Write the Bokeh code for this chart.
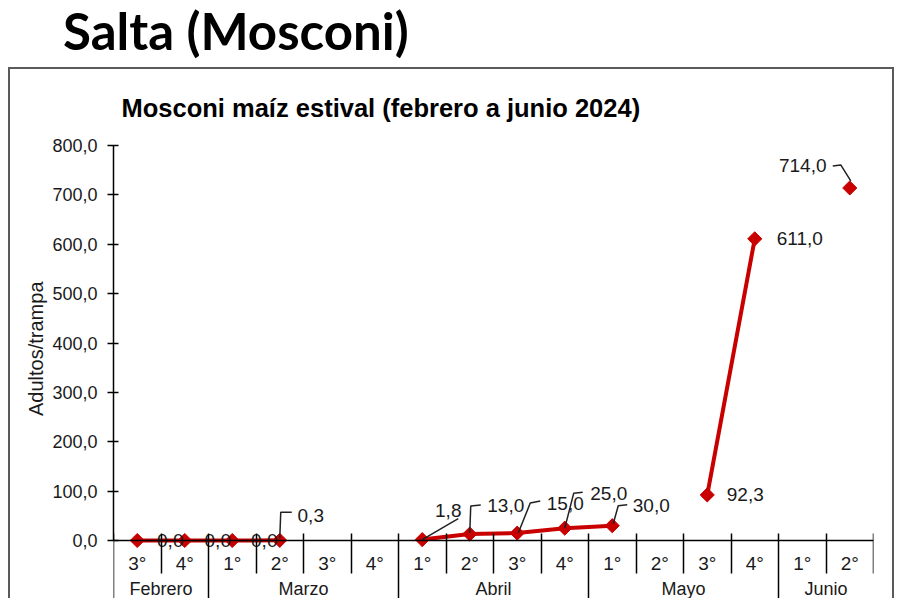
import numpy as np
from bokeh.plotting import figure
from bokeh.models import Range1d, LinearAxis, FixedTicker, ColumnDataSource, Div, Title
from bokeh.layouts import column
from bokeh.core.properties import value
from bokeh.embed import file_html
from bokeh.resources import INLINE

# ---------------- data ----------------
page_title = "Salta (Mosconi)"
chart_title = "Mosconi maíz estival (febrero a junio 2024)"
y_axis_title = "Adultos/trampa"
months = ["Febrero", "Marzo", "Abril", "Mayo", "Junio"]
weeks_per_month = [2, 4, 4, 4, 2]
week_labels = ["3°", "4°", "1°", "2°", "3°", "4°", "1°", "2°",
               "3°", "4°", "1°", "2°", "3°", "4°", "1°", "2°"]
adults = [0.0, 0.0, 0.0, 0.3, None, None, 1.8, 13.0,
          15.0, 25.0, 30.0, None, 92.3, 611.0, None, 714.0]
y_ticks = [0, 100, 200, 300, 400, 500, 600, 700, 800]

# ---------------- label placement (pixels, styling only) ----------------
label_dx = [33, 33, 32, 31, None, None, 26, 36, 48, 44, 39, None, 38, 45, None, -47]
label_dy = [0, 0, 0, -25, None, None, -29, -29, -30, -35, -20, None, 0, 0, None, -22]
leaders = {
    3: [(0, -2), (1, -28), (12, -28)],
    6: [(0, 0), (36, -21)],
    7: [(0, -1), (1, -28), (11, -29)],
    8: [(1, 0), (13, -30), (23, -32)],
    9: [(0, 0), (9, -35), (18, -36)],
    10: [(1, -2), (6, -20), (15, -21)],
    15: [(-17, -22), (-9, -23), (1, -7)],
}

# ---------------- geometry ----------------
W, H = 886, 531
MB_L, MB_T = 105, 78
FRAME_W = 760
MB_R = W - MB_L - FRAME_W
Y_END = 800
PX_PER_UNIT = 395 / 800          # vertical pixels per adult/trap
Y0_FIG = MB_T + Y_END * PX_PER_UNIT
Y_START = -(H - Y0_FIG) / PX_PER_UNIT
n = len(week_labels)
px_x = FRAME_W / n
px_y = PX_PER_UNIT
Y_TITLE_LEN = 146                # approx. rendered length of the y title (px)

RED = "#C80000"
TXT = "#1a1a1a"
FONT = "Liberation Sans"

xs = [i + 0.5 for i in range(n)]
ys = [np.nan if v is None else v for v in adults]

def fmt(v):
    return f"{v:.1f}".replace(".", ",")

p = figure(width=W, height=H, x_range=Range1d(0, n), y_range=Range1d(Y_START, Y_END),
           output_backend="svg", toolbar_location=None,
           x_axis_type=None, y_axis_type=None,
           min_border_left=MB_L, min_border_right=MB_R,
           min_border_top=MB_T, min_border_bottom=0,
           border_fill_color=None, background_fill_color=None,
           outline_line_color=None, margin=(0, 0, 0, 8),
           styles={"box-shadow": "inset 2px 2px 0 0 #5a5a5a, inset -2px 0 0 0 #5a5a5a"})
p.xgrid.visible = False
p.ygrid.visible = False

p.title.text = chart_title
p.title.text_font = FONT
p.title.text_font_size = "25.5px"
p.title.text_font_style = "bold"
p.title.text_color = "#000000"
p.title.align = "left"
p.title.offset = 8
p.title.standoff = 47

# y axis
yaxis = LinearAxis(ticker=FixedTicker(ticks=y_ticks),
                   major_label_overrides={t: fmt(t) for t in y_ticks},
                   bounds=(0, 800))
yaxis.major_tick_in = 5
yaxis.major_tick_out = 6
yaxis.minor_tick_line_color = None
yaxis.major_label_standoff = 10
yaxis.major_label_text_font = FONT
yaxis.major_label_text_font_size = "18px"
yaxis.major_label_text_color = TXT
yaxis.axis_line_color = "#000000"
yaxis.axis_line_width = 1.5
yaxis.major_tick_line_width = 1.5
p.add_layout(yaxis, "left")

# y axis title, centred on the 0..800 span rather than on the whole frame
span_center = MB_T + (Y_END / 2) * PX_PER_UNIT
y_title = Title(text=y_axis_title, align="left",
                offset=H - (span_center + Y_TITLE_LEN / 2),
                text_font=FONT, text_font_size="20px", text_font_style="normal",
                text_color=TXT, standoff=6)
p.add_layout(y_title, "left")

# month boundaries
bounds_month = [0]
for k in weeks_per_month:
    bounds_month.append(bounds_month[-1] + k)
week_bounds = [b for b in range(1, n + 1) if b not in bounds_month[:-1]]
month_centers = [(bounds_month[i] + bounds_month[i + 1]) / 2 for i in range(len(months))]

def base_axis(ticks, overrides):
    ax = LinearAxis(ticker=FixedTicker(ticks=ticks), major_label_overrides=overrides,
                    fixed_location=0)
    ax.minor_tick_line_color = None
    ax.major_label_text_font = FONT
    ax.major_label_text_font_size = "18px"
    ax.major_label_text_color = TXT
    ax.major_tick_line_width = 1.5
    ax.major_tick_line_color = "#000000"
    return ax

ax_weeks = base_axis(week_bounds, {t: "" for t in week_bounds})
ax_weeks.major_tick_in = 7
ax_weeks.major_tick_out = 33
ax_weeks.axis_line_color = "#000000"
ax_weeks.axis_line_width = 1.5
p.add_layout(ax_weeks, "below")

month_seps = bounds_month[:-1]
ax_months_sep = base_axis(month_seps, {t: "" for t in month_seps})
ax_months_sep.major_tick_in = 7
ax_months_sep.major_tick_out = 80
ax_months_sep.axis_line_color = None
p.add_layout(ax_months_sep, "below")

ax_wlab = base_axis(xs, {x: w for x, w in zip(xs, week_labels)})
ax_wlab.major_tick_line_color = None
ax_wlab.major_tick_in = 0
ax_wlab.major_tick_out = 0
ax_wlab.major_label_standoff = 12
ax_wlab.major_label_text_font_size = "19px"
ax_wlab.axis_line_color = None
p.add_layout(ax_wlab, "below")

ax_mlab = base_axis(month_centers, {c: m for c, m in zip(month_centers, months)})
ax_mlab.major_tick_line_color = None
ax_mlab.major_tick_in = 0
ax_mlab.major_tick_out = 0
ax_mlab.major_label_standoff = 38
ax_mlab.axis_line_color = None
p.add_layout(ax_mlab, "below")

# series
src = ColumnDataSource(dict(x=xs, y=ys))
p.line("x", "y", source=src, line_color=RED, line_width=4)
p.scatter("x", "y", source=src, marker="square", angle=np.pi / 4, size=10,
          fill_color=RED, line_color=RED)

# leader lines
lx, ly = [], []
for i, pts in leaders.items():
    lx.append([xs[i] + dx / px_x for dx, dy in pts])
    ly.append([ys[i] - dy / px_y for dx, dy in pts])
p.multi_line(lx, ly, line_color="#222222", line_width=1.5)

# data labels
lab = dict(x=[], y=[], text=[], dx=[], dy=[])
for i, v in enumerate(adults):
    if v is None:
        continue
    lab["x"].append(xs[i]); lab["y"].append(v); lab["text"].append(fmt(v))
    lab["dx"].append(label_dx[i]); lab["dy"].append(label_dy[i])
p.text("x", "y", text="text", x_offset="dx", y_offset="dy", source=ColumnDataSource(lab),
       text_font=value(FONT), text_font_size="19px", text_color=TXT,
       text_align="center", text_baseline="middle")

title_div = Div(text=('<div style="font-family: Lato; font-weight: bold; font-size: 51px; '
                      'line-height: 40px; padding-top: 11px; margin-left: 63px; color: #000; '
                      'white-space: nowrap;">' + page_title + '</div>'),
                width=W, height=67, margin=0)

layout = column(title_div, p, spacing=0)
open("out.html", "w").write(file_html(layout, INLINE))
